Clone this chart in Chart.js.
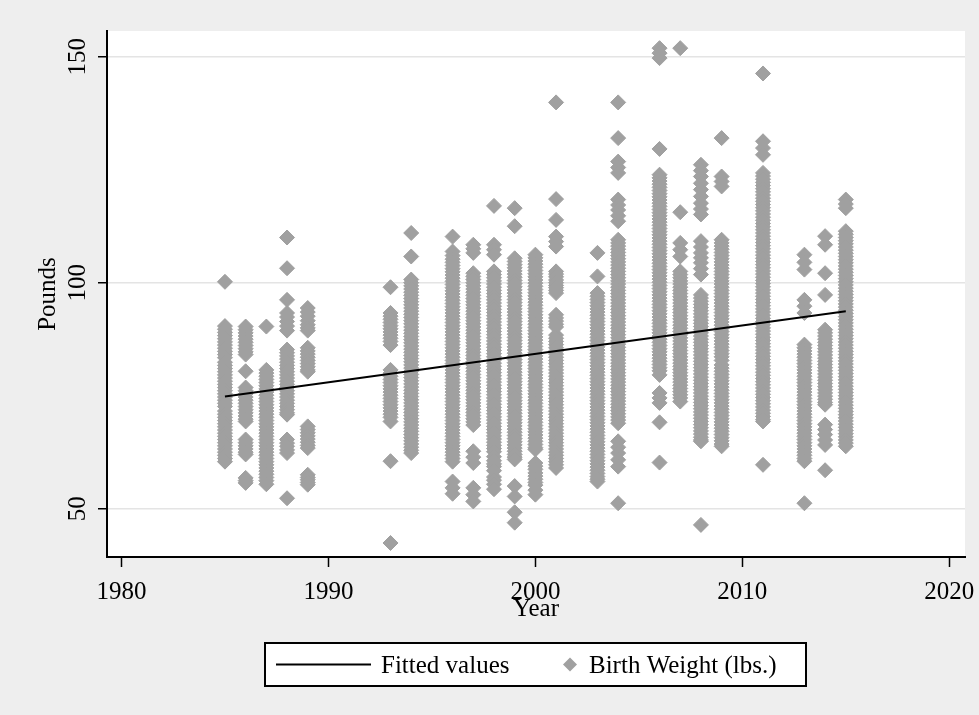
<!DOCTYPE html>
<html>
<head>
<meta charset="utf-8">
<title>Birth weight by year</title>
<script src="https://cdn.jsdelivr.net/npm/chart.js@4/dist/chart.umd.min.js"></script>
<style>
  html, body { margin: 0; padding: 0; background: #eeeeee; }
  canvas { display: block; }
</style>
</head>
<body>
<canvas id="chart" width="979" height="715"></canvas>
<script>
// Axis ticks
const yTickValues = [50, 100, 150];
const xTickValues = [1980, 1990, 2000, 2010, 2020];

// Linear fit (Fitted values), evaluated at the first and last year
const fitYears = [1985, 2015];
const fitValues = [74.8, 93.7];

// Birth weights recorded in each year
const bw1985 = [100.2, 90.4, 89.7, 89.0, 88.3, 87.6, 86.9, 86.2, 85.5, 84.8, 84.1, 83.4, 82.4, 81.7, 81.0, 80.3, 79.6, 78.9, 78.2, 77.5, 76.8, 76.1, 75.4, 74.7, 74.0, 73.3, 72.6, 71.6, 70.9, 70.2, 69.5, 68.8, 68.1, 67.4, 66.7, 66.0, 65.3, 64.6, 63.9, 63.2, 62.5, 61.8, 61.1, 60.4];
const bw1986 = [90.3, 89.6, 88.9, 88.2, 87.5, 86.8, 86.1, 85.4, 84.7, 84.1, 80.4, 76.8, 76.1, 75.4, 74.7, 74.0, 73.3, 72.6, 71.9, 71.2, 70.5, 69.8, 69.3, 65.3, 64.6, 63.9, 63.2, 62.5, 62.0, 56.8, 56.2, 55.7];
const bw1987 = [90.3, 80.7, 80.0, 79.3, 78.6, 77.9, 77.2, 76.5, 75.8, 75.1, 74.4, 73.7, 73.0, 72.3, 71.6, 70.9, 70.2, 69.5, 68.8, 68.1, 67.4, 66.7, 66.0, 65.3, 64.6, 63.9, 63.2, 62.5, 61.8, 61.1, 60.4, 59.7, 59.0, 58.3, 57.6, 56.9, 56.2, 55.4];
const bw1988 = [110.0, 103.2, 96.2, 93.3, 92.4, 91.4, 90.4, 89.4, 85.2, 84.5, 83.8, 83.1, 82.4, 81.7, 81.0, 80.3, 79.6, 78.9, 78.2, 77.5, 76.8, 76.1, 75.4, 74.7, 74.0, 73.3, 72.6, 71.9, 71.2, 70.8, 65.3, 64.5, 63.8, 63.0, 62.3, 52.3];
const bw1989 = [94.4, 93.5, 92.6, 91.6, 90.7, 90.0, 89.4, 85.6, 84.9, 84.2, 83.5, 82.8, 82.1, 81.4, 80.7, 80.3, 68.2, 67.5, 66.8, 66.1, 65.4, 64.7, 64.0, 63.4, 57.5, 56.9, 56.4, 55.8, 55.3];
const bw1993 = [99.0, 93.3, 92.6, 91.9, 91.2, 90.5, 89.8, 89.1, 88.4, 87.7, 87.0, 86.2, 80.7, 80.0, 79.3, 78.6, 77.9, 77.2, 76.5, 75.8, 75.1, 74.4, 73.7, 73.0, 72.3, 71.6, 70.9, 70.2, 69.3, 60.5, 42.4];
const bw1994 = [111.0, 105.8, 100.7, 100.0, 99.3, 98.6, 97.9, 97.2, 96.5, 95.8, 95.1, 94.4, 93.7, 93.0, 92.3, 91.6, 90.9, 90.2, 89.5, 88.8, 88.1, 87.4, 86.7, 86.0, 85.3, 84.6, 83.9, 83.2, 82.5, 81.8, 81.1, 80.4, 79.7, 79.0, 78.3, 77.6, 76.9, 76.2, 75.5, 74.8, 74.1, 73.4, 72.7, 72.0, 71.3, 70.6, 69.9, 69.2, 68.5, 67.8, 67.1, 66.4, 65.7, 65.0, 64.3, 63.6, 62.9, 62.3];
const bw1996 = [110.2, 106.9, 106.0, 105.2, 104.5, 103.8, 103.1, 102.4, 101.7, 101.0, 100.3, 99.6, 98.9, 98.2, 97.5, 96.8, 96.1, 95.4, 94.7, 94.0, 93.3, 92.6, 91.9, 91.2, 90.5, 89.8, 89.1, 88.4, 87.7, 87.0, 86.3, 85.6, 84.9, 84.2, 83.5, 82.8, 82.1, 81.4, 80.7, 80.0, 79.3, 78.6, 77.9, 77.2, 76.5, 75.8, 75.1, 74.4, 73.7, 73.0, 72.3, 71.6, 70.9, 70.2, 69.5, 68.8, 68.1, 67.4, 66.7, 66.0, 65.3, 64.6, 63.9, 63.2, 62.5, 61.8, 61.1, 60.4, 56.0, 54.6, 53.3];
const bw1997 = [108.4, 107.5, 106.6, 102.1, 101.4, 100.7, 100.0, 99.3, 98.6, 97.9, 97.2, 96.5, 95.8, 95.1, 94.4, 93.7, 93.0, 92.3, 91.6, 90.9, 90.2, 89.5, 88.8, 88.1, 87.4, 86.7, 86.0, 85.3, 84.6, 83.9, 83.2, 82.5, 81.8, 81.1, 80.4, 79.7, 79.0, 78.3, 77.6, 76.9, 76.2, 75.5, 74.8, 74.1, 73.4, 72.7, 72.0, 71.3, 70.6, 69.9, 69.2, 68.5, 62.7, 61.4, 60.1, 54.6, 53.1, 51.6];
const bw1998 = [117.0, 108.4, 107.3, 106.2, 102.5, 101.8, 101.1, 100.4, 99.7, 99.0, 98.3, 97.6, 96.9, 96.2, 95.5, 94.8, 94.1, 93.4, 92.7, 92.0, 91.3, 90.6, 89.9, 89.2, 88.5, 87.8, 87.1, 86.4, 85.7, 85.0, 84.3, 83.6, 82.9, 82.2, 81.5, 80.8, 80.1, 79.4, 78.7, 78.0, 77.3, 76.6, 75.9, 75.2, 74.5, 73.8, 73.1, 72.4, 71.7, 71.0, 70.3, 69.6, 68.9, 68.2, 67.5, 66.8, 66.1, 65.4, 64.7, 64.0, 63.3, 62.6, 61.5, 60.6, 59.9, 59.3, 58.4, 57.0, 56.3, 55.4, 54.3];
const bw1999 = [116.5, 112.5, 105.4, 104.7, 104.0, 103.3, 102.6, 101.9, 101.2, 100.5, 99.8, 99.1, 98.4, 97.7, 97.0, 96.3, 95.6, 94.9, 94.2, 93.5, 92.8, 92.1, 91.4, 90.7, 90.0, 89.3, 88.6, 87.9, 87.2, 86.5, 85.8, 85.1, 84.4, 83.7, 83.0, 82.3, 81.6, 80.9, 80.2, 79.5, 78.8, 78.1, 77.4, 76.7, 76.0, 75.3, 74.6, 73.9, 73.2, 72.5, 71.8, 71.1, 70.4, 69.7, 69.0, 68.3, 67.6, 66.9, 66.2, 65.5, 64.8, 64.1, 63.4, 62.7, 62.0, 61.4, 60.9, 55.0, 52.7, 49.2, 46.9];
const bw2000 = [106.2, 105.5, 104.8, 104.1, 103.4, 102.7, 102.0, 101.3, 100.6, 99.9, 99.2, 98.5, 97.8, 97.1, 96.4, 95.7, 95.0, 94.3, 93.6, 92.9, 92.2, 91.5, 90.8, 90.1, 89.4, 88.7, 88.0, 87.3, 86.6, 85.9, 85.2, 84.5, 83.8, 83.1, 82.4, 81.7, 81.0, 80.3, 79.6, 78.9, 78.2, 77.5, 76.8, 76.1, 75.4, 74.7, 74.0, 73.3, 72.6, 71.9, 71.2, 70.5, 69.8, 69.1, 68.4, 67.7, 67.0, 66.3, 65.6, 64.9, 64.2, 63.5, 63.1, 60.1, 59.4, 58.7, 57.9, 57.2, 56.5, 55.8, 55.2, 54.1, 53.1];
const bw2001 = [139.9, 118.5, 113.9, 110.2, 109.1, 108.0, 102.5, 101.9, 101.3, 100.6, 100.0, 99.4, 98.9, 98.3, 97.7, 92.9, 92.2, 91.5, 90.8, 90.2, 88.4, 87.7, 87.0, 86.3, 85.6, 84.9, 84.2, 83.5, 82.8, 82.1, 81.4, 80.7, 80.0, 79.3, 78.6, 77.9, 77.2, 76.5, 75.8, 75.1, 74.4, 73.7, 73.0, 72.3, 71.6, 70.9, 70.2, 69.5, 68.8, 68.1, 67.4, 66.7, 66.0, 65.3, 64.6, 63.9, 63.2, 62.5, 61.8, 61.1, 60.4, 59.7, 59.0];
const bw2003 = [106.6, 101.4, 97.7, 97.0, 96.3, 95.6, 94.9, 94.2, 93.5, 92.8, 92.1, 91.4, 90.7, 90.0, 89.3, 88.6, 87.9, 87.2, 86.5, 85.8, 85.1, 84.4, 83.7, 83.0, 82.3, 81.6, 80.9, 80.2, 79.5, 78.8, 78.1, 77.4, 76.7, 76.0, 75.3, 74.6, 73.9, 73.2, 72.5, 71.8, 71.1, 70.4, 69.7, 69.0, 68.3, 67.6, 66.9, 66.2, 65.5, 64.8, 64.1, 63.4, 62.7, 62.0, 61.3, 60.6, 59.9, 59.2, 58.5, 57.8, 57.1, 56.5, 56.0];
const bw2004 = [139.9, 132.0, 126.8, 125.5, 124.3, 118.4, 117.2, 116.1, 114.8, 113.6, 109.5, 108.8, 108.1, 107.4, 106.7, 106.0, 105.3, 104.6, 103.9, 103.2, 102.5, 101.8, 101.1, 100.4, 99.7, 99.0, 98.3, 97.6, 96.9, 96.2, 95.5, 94.8, 94.1, 93.4, 92.7, 92.0, 91.3, 90.6, 89.9, 89.2, 88.5, 87.8, 87.1, 86.4, 85.7, 85.0, 84.3, 83.6, 82.9, 82.2, 81.5, 80.8, 80.1, 79.4, 78.7, 78.0, 77.3, 76.6, 75.9, 75.2, 74.5, 73.8, 73.1, 72.4, 71.7, 71.0, 70.3, 69.6, 68.9, 64.9, 63.6, 62.3, 60.8, 59.3, 51.2];
const bw2006 = [151.9, 150.8, 149.7, 129.6, 123.9, 123.2, 122.5, 121.8, 121.1, 120.4, 119.7, 119.0, 118.3, 117.6, 116.9, 116.2, 115.5, 114.8, 114.1, 113.4, 112.7, 112.0, 111.3, 110.6, 109.9, 109.2, 108.5, 107.8, 107.1, 106.4, 105.7, 105.0, 104.3, 103.6, 102.9, 102.2, 101.5, 100.8, 100.1, 99.4, 98.7, 98.0, 97.3, 96.6, 95.9, 95.2, 94.5, 93.8, 93.1, 92.4, 91.7, 91.0, 90.3, 89.6, 88.9, 88.2, 87.5, 86.8, 86.1, 85.4, 84.7, 84.0, 83.3, 82.6, 81.9, 81.2, 80.5, 79.6, 75.6, 74.5, 73.4, 69.1, 60.2];
const bw2007 = [151.9, 115.6, 108.8, 107.3, 105.8, 102.5, 101.8, 101.1, 100.4, 99.7, 99.0, 98.3, 97.6, 96.9, 96.2, 95.5, 94.8, 94.1, 93.4, 92.7, 92.0, 91.3, 90.6, 89.9, 89.2, 88.5, 87.8, 87.1, 86.4, 85.7, 85.0, 84.3, 83.6, 82.9, 82.2, 81.5, 80.8, 80.1, 79.4, 78.7, 78.0, 77.3, 76.6, 75.9, 75.2, 74.5, 73.7];
const bw2008 = [126.1, 124.8, 123.5, 122.0, 120.6, 119.1, 117.6, 116.3, 115.1, 109.2, 107.9, 106.6, 105.5, 104.4, 103.1, 101.8, 97.3, 96.6, 95.9, 95.2, 94.5, 93.8, 93.1, 92.4, 91.7, 91.0, 90.3, 89.6, 88.9, 88.2, 87.5, 86.8, 86.1, 85.4, 84.7, 84.0, 83.3, 82.6, 81.9, 81.2, 80.5, 79.8, 79.1, 78.4, 77.7, 77.0, 76.3, 75.6, 74.9, 74.2, 73.5, 72.8, 72.1, 71.4, 70.7, 70.0, 69.3, 68.6, 67.9, 67.2, 66.5, 65.8, 65.2, 64.9, 46.4];
const bw2009 = [132.0, 123.5, 122.4, 121.3, 109.5, 108.8, 108.1, 107.4, 106.7, 106.0, 105.3, 104.6, 103.9, 103.2, 102.5, 101.8, 101.1, 100.4, 99.7, 99.0, 98.3, 97.6, 96.9, 96.2, 95.5, 94.8, 94.1, 93.4, 92.7, 92.0, 91.3, 90.6, 89.9, 89.2, 88.5, 87.8, 87.1, 86.4, 85.7, 85.0, 84.3, 83.6, 82.8, 81.8, 81.1, 80.4, 79.7, 79.0, 78.3, 77.6, 76.9, 76.2, 75.5, 74.8, 74.1, 73.4, 72.7, 72.0, 71.3, 70.6, 69.9, 69.2, 68.5, 67.8, 67.1, 66.4, 65.7, 65.0, 64.3, 63.8];
const bw2011 = [146.3, 131.3, 129.8, 128.3, 124.3, 123.6, 122.9, 122.2, 121.5, 120.8, 120.1, 119.4, 118.7, 118.0, 117.3, 116.6, 115.9, 115.2, 114.5, 113.8, 113.1, 112.4, 111.7, 111.0, 110.3, 109.6, 108.9, 108.2, 107.5, 106.8, 106.1, 105.4, 104.7, 104.0, 103.3, 102.6, 101.9, 101.2, 100.5, 99.8, 99.1, 98.4, 97.7, 97.0, 96.3, 95.6, 94.9, 94.2, 93.5, 92.8, 92.1, 91.4, 90.7, 90.0, 89.3, 88.6, 87.9, 87.2, 86.5, 85.8, 85.1, 84.4, 83.7, 83.0, 82.3, 81.6, 80.9, 80.2, 79.5, 78.8, 78.1, 77.4, 76.7, 76.0, 75.3, 74.6, 73.9, 73.2, 72.5, 71.8, 71.1, 70.4, 69.7, 69.3, 59.7];
const bw2013 = [106.2, 104.5, 102.9, 96.2, 94.8, 93.3, 86.3, 85.6, 84.9, 84.2, 83.5, 82.8, 82.1, 81.4, 80.7, 80.0, 79.3, 78.6, 77.9, 77.2, 76.5, 75.8, 75.1, 74.4, 73.7, 73.0, 72.3, 71.6, 70.9, 70.2, 69.5, 68.8, 68.1, 67.4, 66.7, 66.0, 65.3, 64.6, 63.9, 63.2, 62.5, 61.8, 61.1, 60.5, 51.2];
const bw2014 = [110.3, 108.4, 102.1, 97.3, 89.6, 88.9, 88.2, 87.5, 86.8, 86.1, 85.4, 84.7, 84.0, 83.3, 82.6, 81.9, 81.2, 80.5, 79.8, 79.1, 78.4, 77.7, 77.0, 76.3, 75.6, 74.9, 74.2, 73.5, 73.0, 68.6, 67.5, 66.4, 65.2, 64.1, 58.5];
const bw2015 = [118.4, 117.4, 116.5, 111.4, 110.7, 110.0, 109.3, 108.6, 107.9, 107.2, 106.5, 105.8, 105.1, 104.4, 103.7, 103.0, 102.3, 101.6, 100.9, 100.2, 99.5, 98.8, 98.1, 97.4, 96.7, 96.0, 95.3, 94.6, 93.9, 93.2, 92.5, 91.8, 91.1, 90.4, 89.7, 89.0, 88.3, 87.6, 86.9, 86.2, 85.5, 84.8, 84.1, 83.4, 82.7, 82.0, 81.3, 80.6, 79.9, 79.2, 78.5, 77.8, 77.1, 76.4, 75.7, 75.0, 74.3, 73.6, 72.9, 72.2, 71.5, 70.8, 70.1, 69.4, 68.7, 68.0, 67.3, 66.6, 65.9, 65.2, 64.5, 63.8];

const years = [1985, 1986, 1987, 1988, 1989, 1993, 1994, 1996, 1997, 1998, 1999, 2000, 2001, 2003, 2004, 2006, 2007, 2008, 2009, 2011, 2013, 2014, 2015];
const weightsByYear = [bw1985, bw1986, bw1987, bw1988, bw1989, bw1993, bw1994, bw1996, bw1997, bw1998, bw1999, bw2000, bw2001, bw2003, bw2004, bw2006, bw2007, bw2008, bw2009, bw2011, bw2013, bw2014, bw2015];

// Build point lists for the library
const weightPoints = [];
years.forEach((yr, i) => weightsByYear[i].forEach(v => weightPoints.push({ x: yr, y: v })));
const fitPoints = fitYears.map((yr, i) => ({ x: yr, y: fitValues[i] }));

const FONT = "'Liberation Serif', 'Times New Roman', serif";
const MARKER = '#a0a0a0';

Chart.defaults.font.family = FONT;
Chart.defaults.font.size = 25;
Chart.defaults.color = '#000';

// Paint the grey graph region and the white plot region
const backgroundPlugin = {
  id: 'regions',
  beforeDraw(chart) {
    const { ctx, chartArea: a } = chart;
    ctx.save();
    ctx.fillStyle = '#eeeeee';
    ctx.fillRect(0, 0, chart.width, chart.height);
    ctx.fillStyle = '#ffffff';
    ctx.fillRect(a.left, a.top, a.right - a.left, a.bottom - a.top);
    ctx.restore();
  }
};

// Boxed legend below the plot
const boxLegendPlugin = {
  id: 'boxLegend',
  afterDraw(chart) {
    const { ctx } = chart;
    const ds = chart.data.datasets;
    const box = { x: 265, y: 643, w: 541, h: 43 };
    const cy = box.y + box.h / 2;
    ctx.save();
    ctx.fillStyle = '#ffffff';
    ctx.fillRect(box.x, box.y, box.w, box.h);
    ctx.strokeStyle = '#000';
    ctx.lineWidth = 2;
    ctx.strokeRect(box.x, box.y, box.w, box.h);

    // line sample
    ctx.beginPath();
    ctx.moveTo(276, cy);
    ctx.lineTo(371, cy);
    ctx.lineWidth = 2;
    ctx.strokeStyle = ds[0].borderColor;
    ctx.stroke();

    // diamond sample
    const dx = 570, r = 7;
    ctx.beginPath();
    ctx.moveTo(dx - r, cy);
    ctx.lineTo(dx, cy - r);
    ctx.lineTo(dx + r, cy);
    ctx.lineTo(dx, cy + r);
    ctx.closePath();
    ctx.fillStyle = ds[1].backgroundColor;
    ctx.fill();

    ctx.fillStyle = '#000';
    ctx.font = '25px ' + FONT;
    ctx.textBaseline = 'middle';
    ctx.textAlign = 'left';
    ctx.fillText(ds[0].label, 381, cy + 2);
    ctx.fillText(ds[1].label, 589, cy + 2);
    ctx.restore();
  }
};

new Chart(document.getElementById('chart'), {
  type: 'scatter',
  data: {
    datasets: [
      {
        type: 'line',
        label: 'Fitted values',
        data: fitPoints,
        borderColor: '#000',
        borderWidth: 2,
        pointRadius: 0,
        fill: false,
        tension: 0
      },
      {
        label: 'Birth Weight (lbs.)',
        data: weightPoints,
        pointStyle: 'rectRot',
        pointRadius: 7.5,
        backgroundColor: MARKER,
        borderColor: MARKER,
        borderWidth: 1
      }
    ]
  },
  options: {
    responsive: false,
    animation: false,
    events: [],
    layout: { padding: { left: 10, top: 31, right: 14, bottom: 85 } },
    plugins: {
      legend: { display: false },
      tooltip: { enabled: false }
    },
    scales: {
      x: {
        type: 'linear',
        position: 'bottom',
        min: 1979.3,
        max: 2020.76,
        afterBuildTicks(scale) { scale.ticks = xTickValues.map(v => ({ value: v })); },
        afterFit(scale) {
          scale.height = 73;
          scale.paddingLeft = 0; scale.paddingRight = 0;
        },
        ticks: {
          padding: 10,
          maxRotation: 0,
          callback: v => String(v)
        },
        grid: {
          drawOnChartArea: false,
          tickLength: 10,
          tickColor: '#000',
          tickWidth: 1.5
        },
        border: { display: true, color: '#000', width: 2 },
        title: { display: true, text: 'Year', padding: { top: 0, bottom: 6 } }
      },
      y: {
        type: 'linear',
        position: 'left',
        min: 39.3,
        max: 155.7,
        afterBuildTicks(scale) { scale.ticks = yTickValues.map(v => ({ value: v })); },
        afterFit(scale) {
          scale.width = 97;
          scale.paddingTop = 0; scale.paddingBottom = 0;
        },
        ticks: {
          padding: 1,
          minRotation: 90,
          maxRotation: 90,
          crossAlign: 'center',
          callback: v => String(v)
        },
        grid: {
          color: '#e4e4e4',
          lineWidth: 1.5,
          tickLength: 9,
          tickColor: '#000',
          tickWidth: 1.5
        },
        border: { display: true, color: '#000', width: 2 },
        title: { display: true, text: 'Pounds', padding: { top: 23, bottom: 0 } }
      }
    }
  },
  plugins: [backgroundPlugin, boxLegendPlugin]
});
</script>
</body>
</html>
